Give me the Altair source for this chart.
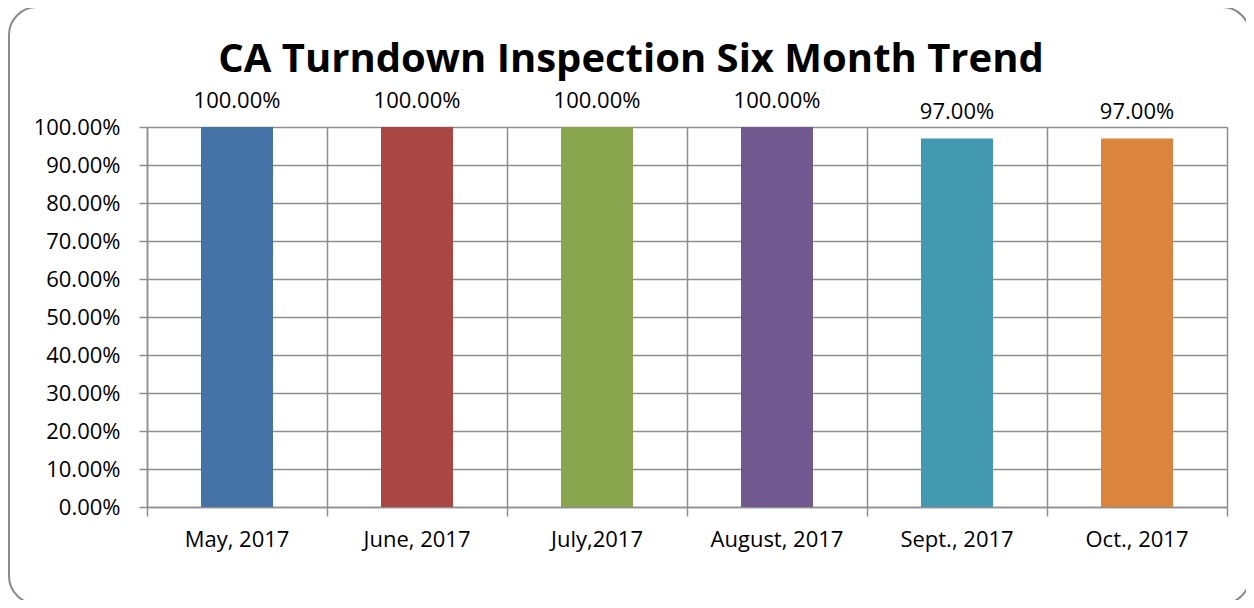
import altair as alt
import pandas as pd

months = ["May, 2017", "June, 2017", "July,2017", "August, 2017", "Sept., 2017", "Oct., 2017"]
rates = [1.00, 1.00, 1.00, 1.00, 0.97, 0.97]
colors = ["#4572A7", "#AA4643", "#89A54E", "#71588F", "#4198AF", "#DB843D"]
title_text = "CA Turndown Inspection Six Month Trend"
y_ticks = [0.0, 0.1, 0.2, 0.3, 0.4, 0.5, 0.6, 0.7, 0.8, 0.9, 1.0]

df = pd.DataFrame({"month": months, "rate": rates, "color": colors})
title_df = pd.DataFrame({"t": [title_text]})

FONT = "Open Sans"
GRID = "#8e8e8e"
FS = 22

x_enc = alt.X(
    "month:N", sort=months, title=None,
    scale=alt.Scale(paddingInner=0, paddingOuter=0),
    axis=alt.Axis(
        bandPosition=1, tickExtra=True, labelAngle=0,
        grid=True, gridColor=GRID, gridWidth=1.5,
        domainColor=GRID, domainWidth=1.5, tickColor=GRID, tickWidth=1.5, tickSize=9,
        labelFont=FONT, labelFontSize=FS, labelColor="#000000", labelPadding=13,
    ),
)
y_enc = alt.Y(
    "rate:Q", title=None,
    scale=alt.Scale(domain=[0, 1], nice=False),
    axis=alt.Axis(
        values=y_ticks, format=".2%", labelOverlap=False,
        grid=True, gridColor=GRID, gridWidth=1.5,
        domainColor=GRID, domainWidth=1.5, tickColor=GRID, tickWidth=1.5, tickSize=8,
        labelFont=FONT, labelFontSize=FS, labelColor="#000000", labelPadding=19,
    ),
)

bars = alt.Chart(df).mark_bar(width=alt.RelativeBandSize(0.4)).encode(
    x=x_enc, y=y_enc, color=alt.Color("color:N", scale=None)
)
labels = alt.Chart(df).mark_text(
    font=FONT, fontSize=FS, baseline="alphabetic", dy=-19, color="#000000"
).encode(
    x=x_enc, y=y_enc, text=alt.Text("rate:Q", format=".2%")
)
frame = alt.Chart(title_df).mark_rect(
    fill=None, stroke="#8a8a8a", strokeWidth=2, cornerRadius=28, clip=False
).encode(
    x=alt.value(-138), x2=alt.value(1103), y=alt.value(-120), y2=alt.value(477)
)
title = alt.Chart(title_df).mark_text(
    font=FONT, fontSize=40, fontWeight="bold", baseline="alphabetic", align="center",
    color="#000000", clip=False
).encode(
    x=alt.value(484), y=alt.value(-55), text="t:N"
)

chart = alt.layer(frame, bars, labels, title).properties(
    width=1080, height=380,
    autosize=alt.AutoSizeParams(type="none"),
    padding={"left": 139, "top": 119, "right": 19, "bottom": 93},
).configure_view(stroke=GRID, strokeWidth=1.5).configure(background="white")

chart.save("out.html", embed_options={"renderer": "svg", "actions": False})
